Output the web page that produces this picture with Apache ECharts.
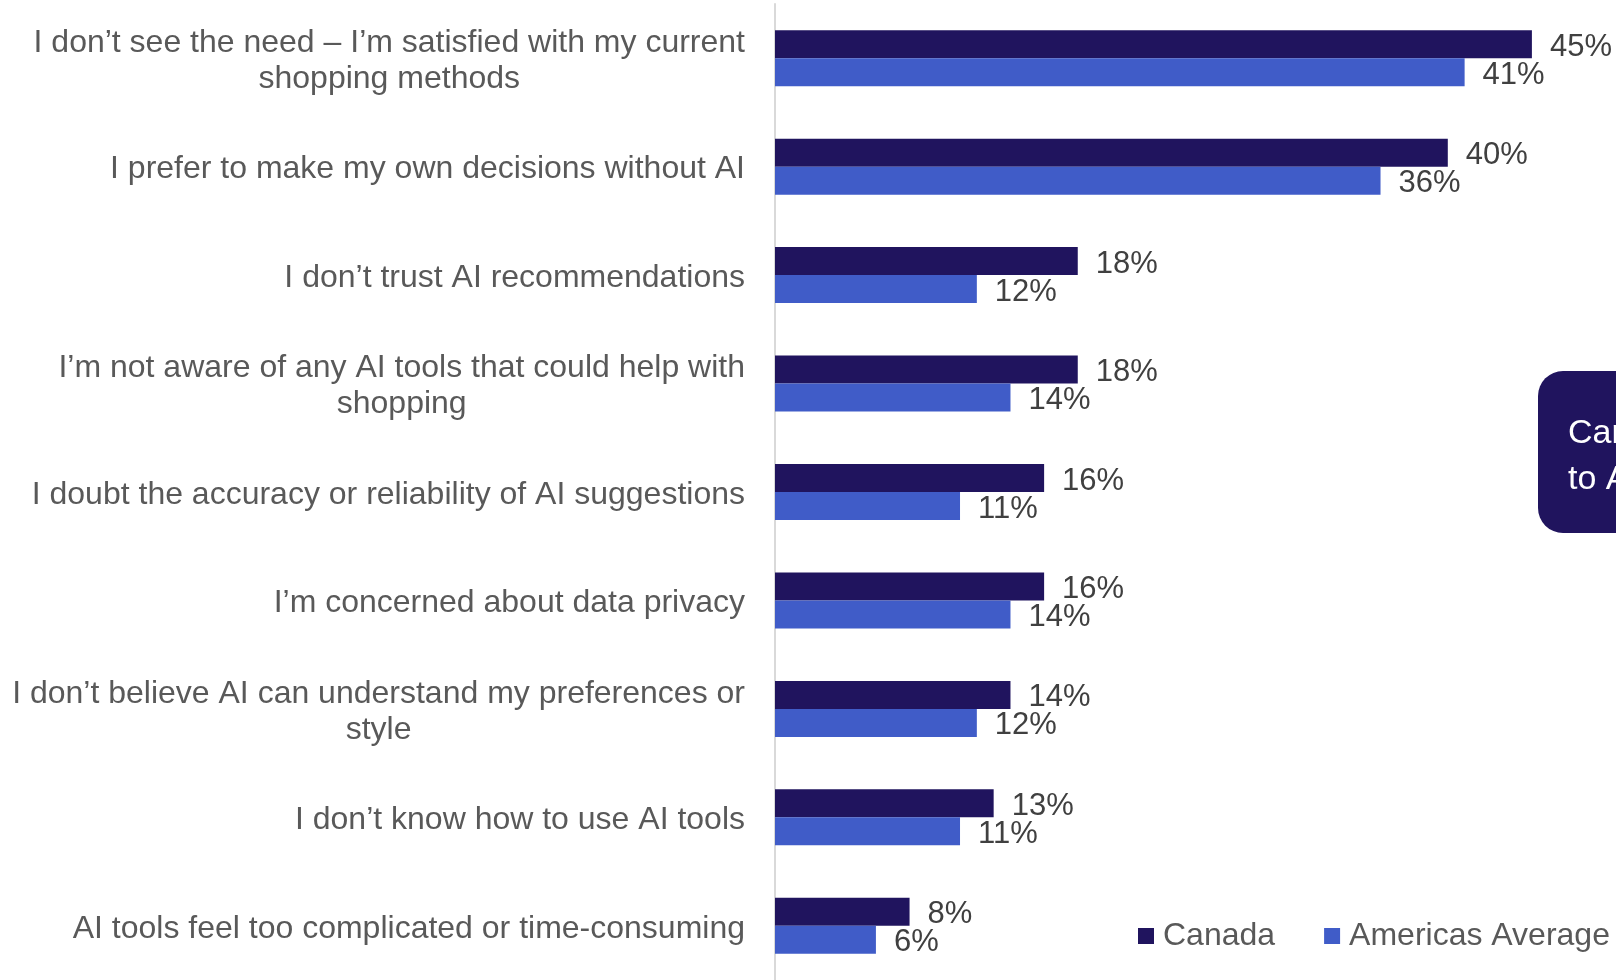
<!DOCTYPE html>
<html>
<head>
<meta charset="utf-8">
<title>Reasons for not using AI when shopping</title>
<script src="https://cdn.jsdelivr.net/npm/echarts@6/dist/echarts.min.js"></script>
<style>
  html, body { margin: 0; padding: 0; background: #ffffff; }
  #chart { width: 1616px; height: 980px; }
</style>
</head>
<body>
<div id="chart"></div>
<script>
// Reasons, listed top to bottom
const categories = [
  'I don\u2019t see the need \u2013 I\u2019m satisfied with my current\nshopping methods',
  'I prefer to make my own decisions without AI',
  'I don\u2019t trust AI recommendations',
  'I\u2019m not aware of any AI tools that could help with\nshopping',
  'I doubt the accuracy or reliability of AI suggestions',
  'I\u2019m concerned about data privacy',
  'I don\u2019t believe AI can understand my preferences or\nstyle',
  'I don\u2019t know how to use AI tools',
  'AI tools feel too complicated or time-consuming'
];

// Share of respondents (%)
const canada = [45, 40, 18, 18, 16, 16, 14, 13, 8];
const americasAverage = [41, 36, 12, 14, 11, 14, 12, 11, 6];

const seriesNames = ['Canada', 'Americas Average'];
const calloutLines = ['Canada relative', 'to Americas'];

const FONT = '"Liberation Sans", Arial, sans-serif';
const COLORS = ['#20145e', '#405cc8'];

const chart = echarts.init(document.getElementById('chart'), null, { renderer: 'canvas' });

function barSeries(name, data, color) {
  return {
    name: name,
    type: 'bar',
    data: data,
    barWidth: 28,
    barGap: '0%',
    itemStyle: { color: color },
    label: {
      show: true,
      position: 'right',
      distance: 18,
      offset: [0, 3],
      formatter: '{c}%',
      fontFamily: FONT,
      fontSize: 31,
      color: '#404040'
    },
    emphasis: { disabled: true },
    animation: false
  };
}

chart.setOption({
  backgroundColor: '#ffffff',
  animation: false,
  textStyle: { fontFamily: FONT },
  grid: { left: 775, right: -4, top: 4, bottom: -5, containLabel: false },
  xAxis: {
    type: 'value',
    min: 0,
    max: 50,
    show: false
  },
  yAxis: {
    type: 'category',
    inverse: true,
    data: categories,
    axisTick: { show: false },
    axisLine: { show: true, lineStyle: { color: '#d9d9d9', width: 2 } },
    axisLabel: {
      interval: 0,
      margin: 30,
      padding: [6, 0, 0, 0],
      color: '#595959',
      fontFamily: FONT,
      fontSize: 32,
      lineHeight: 36,
      formatter: function (v) {
        return v.split('\n').map(function (l) { return '{c|' + l + '}'; }).join('\n');
      },
      rich: {
        c: { align: 'center', fontFamily: FONT, fontSize: 32, lineHeight: 36, color: '#595959' }
      }
    }
  },
  legend: {
    data: seriesNames,
    left: 1138,
    top: 920,
    padding: 0,
    itemWidth: 16,
    itemHeight: 16,
    itemGap: 49,
    icon: 'rect',
    textStyle: { fontFamily: FONT, fontSize: 32, color: '#595959', padding: [0, 0, 0, 4] }
  },
  series: [
    barSeries(seriesNames[0], canada, COLORS[0]),
    barSeries(seriesNames[1], americasAverage, COLORS[1])
  ],
  graphic: [
    {
      type: 'rect',
      left: 1538,
      top: 371,
      shape: { width: 260, height: 162, r: 25 },
      style: { fill: '#20145e' },
      z: 10
    },
    {
      type: 'text',
      left: 1568,
      top: 411,
      style: {
        text: calloutLines.join('\n'),
        fontFamily: FONT,
        fontSize: 34,
        lineHeight: 46,
        fill: '#ffffff'
      },
      z: 11
    }
  ]
});
</script>
</body>
</html>
